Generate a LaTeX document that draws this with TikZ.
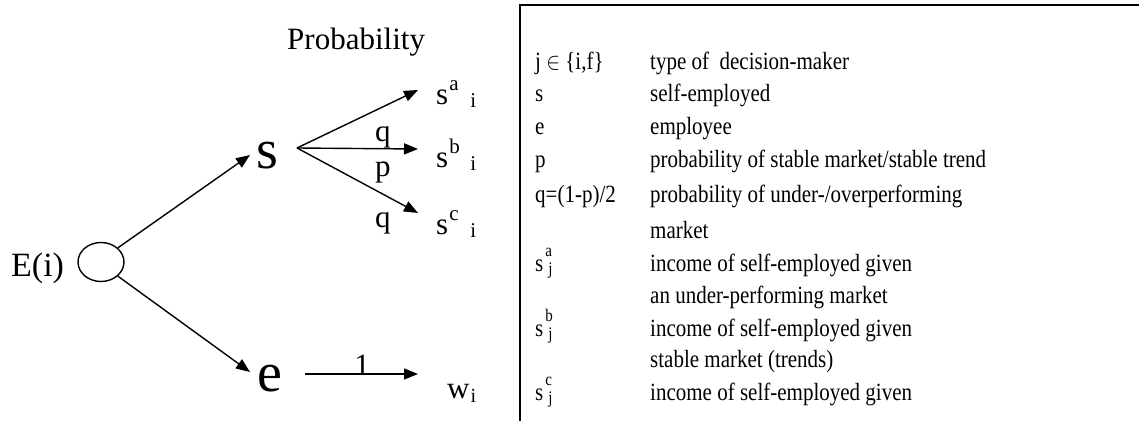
\documentclass[tikz,border=0pt]{standalone}
\usepackage{graphicx}
\usepackage{fontspec}
\setmainfont{Liberation Serif}
\usetikzlibrary{arrows.meta,shapes.geometric}
\newcommand{\fsz}[1]{\fontsize{#1}{#1}\selectfont}
\newcommand{\vstr}[1]{\scalebox{1}[1.18]{#1}}
\begin{document}
\begin{tikzpicture}[x=1pt,y=-1pt,
  arr/.style={line width=1.4pt,-{Triangle[length=14pt,width=11pt]}},
  lbl/.style={font=\fsz{31}, inner sep=0, anchor=base west},
  big/.style={font=\fsz{56}, inner sep=0, anchor=base west},
  leg/.style={font=\fsz{21}, inner sep=0, anchor=base west}]
\useasboundingbox (0,0) rectangle (1139,420);
\clip (0,0) rectangle (1139,420);
% tree
\node[lbl] (prob) at (287,49) {Probability};
\node[lbl, font=\fsz{34}] (E) at (11,276) {E(i)};
\node[draw, ellipse, line width=1.4pt, minimum width=46pt, minimum height=39pt, inner sep=0] (root) at (101,262) {};
\node[big] (s) at (256,168) {s};
\node[big] (e) at (257,391) {e};
\coordinate (sfork) at (297,148);
\coordinate (ta) at (418,90);
\coordinate (tb) at (418,149);
\coordinate (tc) at (418,213);
\coordinate (ew) at (305,374);
\coordinate (tw) at (418,374);
\coordinate (ts) at (250,155);
\coordinate (te) at (250,372);
\draw[arr] (root.40) -- (ts);
\draw[arr] (root.-40) -- (te);
\draw[arr] (sfork) -- (ta);
\draw[arr] (sfork) -- (tb);
\draw[arr] (sfork) -- (tc);
\draw[arr] (ew) -- (tw);
\node[lbl] (q1) at (375,141) {q};
\node[lbl] (p1) at (375,176) {p};
\node[lbl] (q2) at (375,227) {q};
\node[lbl, anchor=base] (one) at (362,375) {1};
\node[lbl] (sa) at (436,104) {s\hspace{1pt}\rlap{\raisebox{14pt}{\fsz{21}a}}\hspace{21pt}\raisebox{-3pt}{\fsz{21}i}};
\node[lbl] (sb) at (436,167) {s\hspace{1pt}\rlap{\raisebox{14pt}{\fsz{21}b}}\hspace{21pt}\raisebox{-3pt}{\fsz{21}i}};
\node[lbl] (sc) at (436,234) {s\hspace{1pt}\rlap{\raisebox{14pt}{\fsz{21}c}}\hspace{21pt}\raisebox{-3pt}{\fsz{21}i}};
\node[lbl] (w) at (447,398) {w\hspace{1pt}\raisebox{-4pt}{\fsz{20}i}};
% legend box
\draw[line width=1.8pt] (520,425) -- (520,5) -- (1145,5);
\node[leg] (l1a) at (535,69) {\vstr{j $\in$ \{i,f\}}};
\node[leg] (l1b) at (650,69) {\vstr{type of\ \ decision-maker}};
\node[leg] (l2a) at (535,101) {\vstr{s}};
\node[leg] (l2b) at (650,101) {\vstr{self-employed}};
\node[leg] (l3a) at (535,134) {\vstr{e}};
\node[leg] (l3b) at (650,134) {\vstr{employee}};
\node[leg] (l4a) at (535,167) {\vstr{p}};
\node[leg] (l4b) at (650,167) {\vstr{probability of stable market/stable trend}};
\node[leg] (l5a) at (535,202) {\vstr{q=(1-p)/2}};
\node[leg] (l5b) at (650,202) {\vstr{probability of under-/overperforming}};
\node[leg] (l6b) at (650,238) {\vstr{market}};
\node[leg] (l7a) at (535,271) {\vstr{s\hspace{2pt}\rlap{\raisebox{12pt}{\fsz{15}a}}\hspace{3pt}\raisebox{-3pt}{\fsz{15}j}}};
\node[leg] (l7b) at (650,271) {\vstr{income of self-employed given}};
\node[leg] (l8b) at (650,303) {\vstr{an under-performing market}};
\node[leg] (l9a) at (535,336) {\vstr{s\hspace{2pt}\rlap{\raisebox{12pt}{\fsz{15}b}}\hspace{3pt}\raisebox{-3pt}{\fsz{15}j}}};
\node[leg] (l9b) at (650,336) {\vstr{income of self-employed given}};
\node[leg] (l10b) at (650,367) {\vstr{stable market (trends)}};
\node[leg] (l11a) at (535,400) {\vstr{s\hspace{2pt}\rlap{\raisebox{12pt}{\fsz{15}c}}\hspace{3pt}\raisebox{-3pt}{\fsz{15}j}}};
\node[leg] (l11b) at (650,400) {\vstr{income of self-employed given}};
\end{tikzpicture}
\end{document}
